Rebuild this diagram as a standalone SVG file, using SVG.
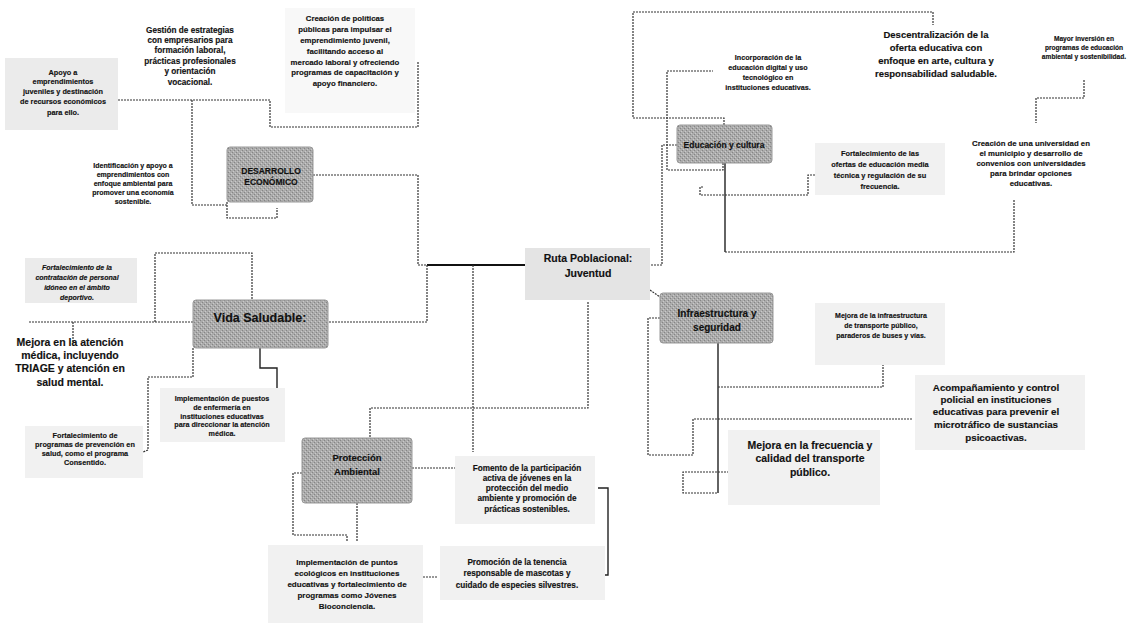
<svg xmlns="http://www.w3.org/2000/svg" width="1136" height="633" viewBox="0 0 1136 633">
<defs>
<pattern id="tex" width="4" height="4" patternUnits="userSpaceOnUse">
<rect width="4" height="4" fill="#ababab"/>
<rect x="0" y="0" width="1" height="1" fill="#858585"/>
<rect x="2" y="2" width="1" height="1" fill="#858585"/>
<rect x="3" y="1" width="1" height="1" fill="#cacaca"/>
<rect x="1" y="3" width="1" height="1" fill="#cacaca"/>
</pattern>
</defs>
<style>
text{font-family:"Liberation Sans",Arial,sans-serif;font-weight:bold;fill:#111;stroke:#111;stroke-width:0.15;text-anchor:middle}
.main{fill:url(#tex);stroke:#999;stroke-width:1}
.bg{fill:#f1f1f1}
.c{fill:none;stroke:#333;stroke-width:1.2;stroke-dasharray:2 1}
.s{fill:none;stroke:#222;stroke-width:1.4}
.h{fill:none;stroke:#111;stroke-width:2.2}
</style>
<rect width="1136" height="633" fill="#fff"/>

<g id="connectors">
<path class="h" d="M427 265H527"/>
<path class="c" d="M313 175H418V265H427"/>
<path class="c" d="M118 100H270V127H418V62"/>
<path class="c" d="M192 100V205H227"/>
<path class="c" d="M227 202V218H277V208"/>
<path class="c" d="M427 265V322H328"/>
<path class="c" d="M193 322H28"/>
<path class="c" d="M73 322V342"/>
<path class="c" d="M155 322V253H252V300"/>
<path class="s" d="M260 348V368H277V418L272 420"/>
<path class="c" d="M193 348V377H148V450L143 452"/>
<path class="c" d="M648 265H662V145H677"/>
<path class="c" d="M723 163V170H667V71H713"/>
<path class="c" d="M724 125V118H633V12H933V25"/>
<path class="s" d="M725 163V252"/>
<path class="c" d="M725 252H1014V200"/>
<path class="c" d="M703 187H700V195H808V175H820"/>
<path class="c" d="M1084 80V98H1036V123"/>
<path class="c" d="M650 290L660 297"/>
<path class="c" d="M660 318H648V455H693V419H913"/>
<path class="s" d="M718 343V493"/>
<path class="c" d="M718 387H883V365"/>
<path class="c" d="M735 472H683V493H718"/>
<path class="c" d="M588 302V408H370V438"/>
<path class="c" d="M473 265V452"/>
<path class="c" d="M412 468H458"/>
<path class="c" d="M357 503V542"/>
<path class="c" d="M302 473H293V535H347V541"/>
<path class="c" d="M420 577H438"/>
<path class="s" d="M598 488H608V575H590"/>
</g>

<g id="n-ruta">
<rect x="525" y="248" width="125" height="52" fill="#e4e4e4"/>
<text font-size="10.5"><tspan x="588" y="262">Ruta Poblacional:</tspan><tspan x="588" y="277">Juventud</tspan></text>
</g>

<g id="n-desarrollo">
<rect class="main" x="227" y="147" width="86" height="55" rx="3"/>
<text font-size="8.5"><tspan x="271" y="174">DESARROLLO</tspan><tspan x="271" y="185">ECONÓMICO</tspan></text>
</g>

<g id="n-gestion">
<text font-size="8.2"><tspan x="190" y="33">Gestión de estrategias</tspan><tspan x="190" y="43">con empresarios para</tspan><tspan x="190" y="53">formación laboral,</tspan><tspan x="190" y="64">prácticas profesionales</tspan><tspan x="190" y="74">y orientación</tspan><tspan x="190" y="85">vocacional.</tspan></text>
</g>

<g id="n-politicas">
<rect class="bg" x="285" y="8" width="130" height="105" opacity="0.5"/>
<text font-size="7.8"><tspan x="345" y="21">Creación de políticas</tspan><tspan x="345" y="32">públicas para impulsar el</tspan><tspan x="345" y="43">emprendimiento juvenil,</tspan><tspan x="345" y="54">facilitando acceso al</tspan><tspan x="345" y="65">mercado laboral y ofreciendo</tspan><tspan x="345" y="75">programas de capacitación y</tspan><tspan x="345" y="86">apoyo financiero.</tspan></text>
</g>

<g id="n-apoyo">
<rect class="bg" x="5" y="58" width="113" height="72" fill="#ebebeb" style="fill:#ebebeb"/>
<text font-size="7.3"><tspan x="63" y="75">Apoyo a</tspan><tspan x="63" y="84">emprendimientos</tspan><tspan x="63" y="94">juveniles y destinación</tspan><tspan x="63" y="104">de recursos económicos</tspan><tspan x="63" y="115">para ello.</tspan></text>
</g>

<g id="n-identificacion">
<text font-size="7"><tspan x="133" y="168">Identificación y apoyo a</tspan><tspan x="133" y="177">emprendimientos con</tspan><tspan x="133" y="186">enfoque ambiental para</tspan><tspan x="133" y="195">promover una economía</tspan><tspan x="133" y="204">sostenible.</tspan></text>
</g>

<g id="n-vida">
<rect class="main" x="193" y="300" width="135" height="48" rx="3"/>
<text font-size="12.5"><tspan x="260" y="322">Vida Saludable:</tspan></text>
</g>

<g id="n-contratacion">
<rect class="bg" x="25" y="258" width="112" height="45" style="fill:#ebebeb"/>
<text font-size="7" font-style="italic"><tspan x="77" y="270">Fortalecimiento de la</tspan><tspan x="77" y="280">contratación de personal</tspan><tspan x="77" y="290">idóneo en el ámbito</tspan><tspan x="77" y="300">deportivo.</tspan></text>
</g>

<g id="n-atencion">
<text font-size="10.5"><tspan x="70" y="346">Mejora en la atención</tspan><tspan x="70" y="359">médica, incluyendo</tspan><tspan x="70" y="372">TRIAGE y atención en</tspan><tspan x="70" y="386">salud mental.</tspan></text>
</g>

<g id="n-enfermeria">
<rect class="bg" x="160" y="388" width="125" height="54"/>
<text font-size="7.2"><tspan x="222" y="401">Implementación de puestos</tspan><tspan x="222" y="410">de enfermería en</tspan><tspan x="222" y="419">instituciones educativas</tspan><tspan x="222" y="427">para direccionar la atención</tspan><tspan x="222" y="436">médica.</tspan></text>
</g>

<g id="n-prevencion">
<rect class="bg" x="25" y="426" width="118" height="52"/>
<text font-size="7.3"><tspan x="85" y="438">Fortalecimiento de</tspan><tspan x="85" y="447">programas de prevención en</tspan><tspan x="85" y="456">salud, como el programa</tspan><tspan x="85" y="465">Consentido.</tspan></text>
</g>

<g id="n-proteccion">
<rect class="main" x="302" y="438" width="110" height="65" rx="3"/>
<text font-size="9.5"><tspan x="357" y="461">Protección</tspan><tspan x="357" y="475">Ambiental</tspan></text>
</g>

<g id="n-fomento">
<rect class="bg" x="455" y="456" width="140" height="68"/>
<text font-size="8.2"><tspan x="527" y="471">Fomento de la participación</tspan><tspan x="527" y="481">activa de jóvenes en la</tspan><tspan x="527" y="491">protección del medio</tspan><tspan x="527" y="501">ambiente y promoción de</tspan><tspan x="527" y="512">prácticas sostenibles.</tspan></text>
</g>

<g id="n-promocion">
<rect class="bg" x="440" y="546" width="165" height="54"/>
<text font-size="8.2"><tspan x="517" y="565">Promoción de la tenencia</tspan><tspan x="517" y="576">responsable de mascotas y</tspan><tspan x="517" y="588">cuidado de especies silvestres.</tspan></text>
</g>

<g id="n-implementacion">
<rect class="bg" x="268" y="545" width="155" height="78"/>
<text font-size="8"><tspan x="347" y="565">Implementación de puntos</tspan><tspan x="347" y="576">ecológicos en instituciones</tspan><tspan x="347" y="587">educativas y fortalecimiento de</tspan><tspan x="347" y="598">programas como Jóvenes</tspan><tspan x="347" y="609">Bioconciencia.</tspan></text>
</g>

<g id="n-educacion">
<rect class="main" x="677" y="125" width="95" height="38" rx="3"/>
<text font-size="8.5"><tspan x="724" y="148">Educación y cultura</tspan></text>
</g>

<g id="n-incorporacion">
<text font-size="7.2"><tspan x="768" y="60">Incorporación de la</tspan><tspan x="768" y="70">educación digital y uso</tspan><tspan x="768" y="80">tecnológico en</tspan><tspan x="768" y="90">instituciones educativas.</tspan></text>
</g>

<g id="n-descentralizacion">
<text font-size="9.5"><tspan x="936" y="38">Descentralización de la</tspan><tspan x="936" y="51">oferta educativa con</tspan><tspan x="936" y="64">enfoque en arte, cultura y</tspan><tspan x="936" y="77">responsabilidad saludable.</tspan></text>
</g>

<g id="n-mayor">
<text font-size="6.6"><tspan x="1084" y="41">Mayor inversión en</tspan><tspan x="1084" y="50">programas de educación</tspan><tspan x="1084" y="59">ambiental y sostenibilidad.</tspan></text>
</g>

<g id="n-universidad">
<text font-size="7.8"><tspan x="1031" y="146">Creación de una universidad en</tspan><tspan x="1031" y="156">el municipio y desarrollo de</tspan><tspan x="1031" y="166">convenios con universidades</tspan><tspan x="1031" y="176">para brindar opciones</tspan><tspan x="1031" y="186">educativas.</tspan></text>
</g>

<g id="n-ofertas">
<rect class="bg" x="815" y="143" width="130" height="52"/>
<text font-size="7.4"><tspan x="880" y="156">Fortalecimiento de las</tspan><tspan x="880" y="167">ofertas de educación media</tspan><tspan x="880" y="178">técnica y regulación de su</tspan><tspan x="880" y="189">frecuencia.</tspan></text>
</g>

<g id="n-infra">
<rect class="main" x="660" y="293" width="113" height="50" rx="3"/>
<text font-size="10"><tspan x="717" y="317">Infraestructura y</tspan><tspan x="717" y="331">seguridad</tspan></text>
</g>

<g id="n-mejora-infra">
<rect class="bg" x="815" y="303" width="130" height="62"/>
<text font-size="7"><tspan x="881" y="318">Mejora de la infraestructura</tspan><tspan x="881" y="328">de transporte público,</tspan><tspan x="881" y="338">paraderos de buses y vías.</tspan></text>
</g>

<g id="n-acompanamiento">
<rect class="bg" x="915" y="375" width="170" height="75"/>
<text font-size="9.8"><tspan x="996" y="391">Acompañamiento y control</tspan><tspan x="996" y="403">policial en instituciones</tspan><tspan x="996" y="415">educativas para prevenir el</tspan><tspan x="996" y="428">microtráfico de sustancias</tspan><tspan x="996" y="441">psicoactivas.</tspan></text>
</g>

<g id="n-frecuencia">
<rect class="bg" x="728" y="430" width="152" height="75"/>
<text font-size="10.5"><tspan x="810" y="449">Mejora en la frecuencia y</tspan><tspan x="810" y="462">calidad del transporte</tspan><tspan x="810" y="476">público.</tspan></text>
</g>
</svg>
